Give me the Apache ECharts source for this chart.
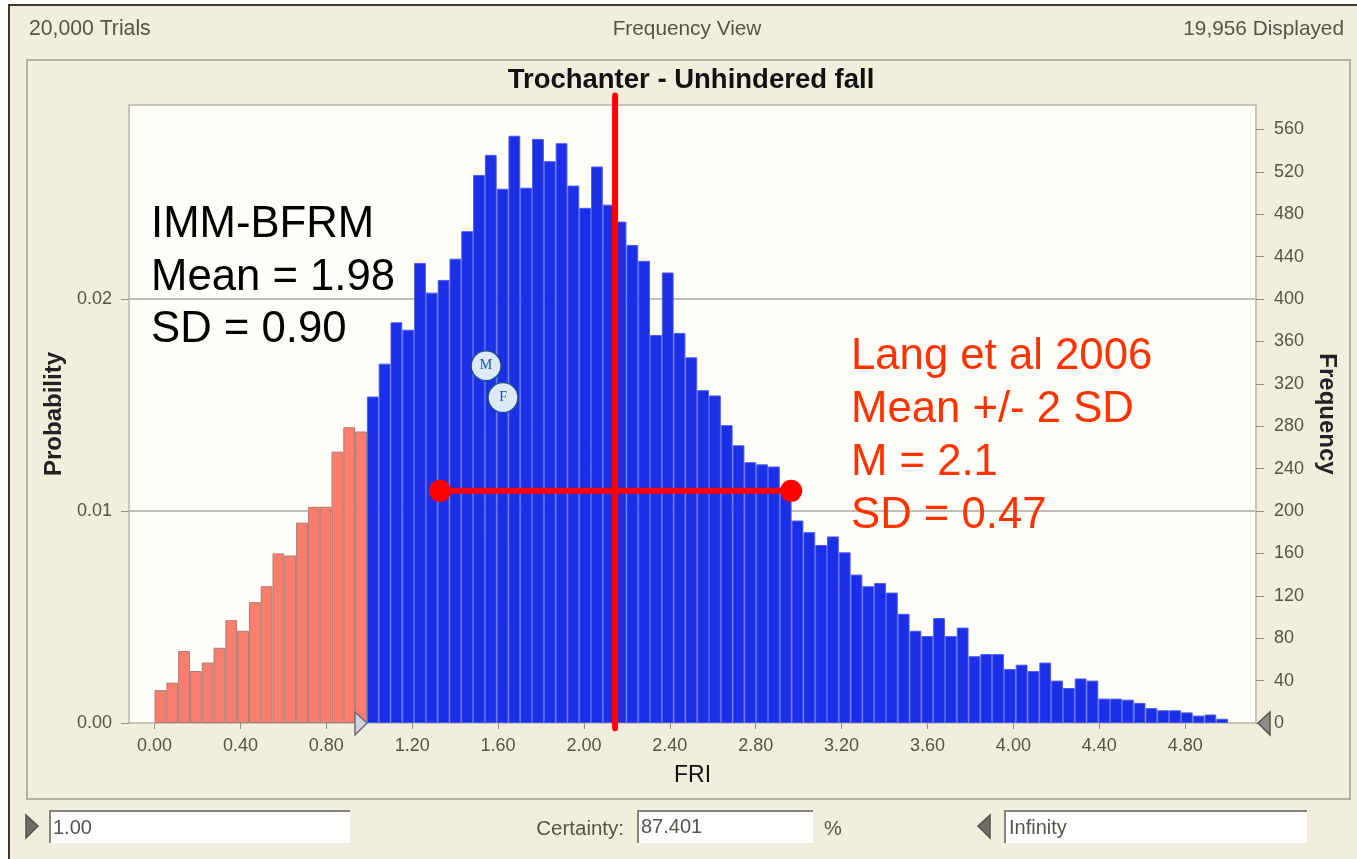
<!DOCTYPE html>
<html>
<head>
<meta charset="utf-8">
<style>html,body{margin:0;padding:0;background:#fff}#c{width:1357px;height:859px}</style>
<script src="https://cdn.jsdelivr.net/npm/echarts@6/dist/echarts.min.js"></script>
</head>
<body>
<div id="c"></div>
<script>
const redFreq = [31,38,68,49,57,71,97,87,114,129,160,158,189,204,204,256,279,275];
const blueFreq = [308,339,378,371,434,406,418,438,464,517,536,504,554,505,551,530,547,507,486,525,489,473,451,436,366,
  425,368,345,314,309,281,262,246,244,242,220,191,180,168,176,161,
  140,129,132,123,103,87,82,99,82,90,63,65,65,51,55,49,57,40,33,42,40,23,23,22,19,14,12,12,10,7,8,4];
const xTicks = [0,0.4,0.8,1.2,1.6,2.0,2.4,2.8,3.2,3.6,4.0,4.4,4.8];
const freqTicks = [0,40,80,120,160,200,240,280,320,360,400,440,480,520,560];
const probTicks = [0,0.01,0.02];
const meanLine = [[2.145,592],[2.145,-5]];
const sdLine = [[1.33,219],[2.965,219]];
const markers = [['M',1.544,337],['F',1.623,307]];
const leftNote = ['IMM-BFRM','Mean = 1.98','SD = 0.90'];
const rightNote = ['Lang et al 2006','Mean +/- 2 SD','M = 2.1','SD = 0.47'];
const binCount = redFreq.length + blueFreq.length;
const binW = 5 / binCount;
const sans = '"Liberation Sans", Arial, sans-serif';
const panel = '#f1eedd', grey = '#55534c';

const redData = redFreq.map((v,i)=>[(i+0.5)*binW,v]);
const blueData = blueFreq.map((v,i)=>[(i+redFreq.length+0.5)*binW,v]);

function txt(x,y,text,size,fill,align,extra){
  return {type:'text',x:x,y:y,z:50,silent:true,style:Object.assign({text:text,font:size+'px '+sans,fill:fill,align:align||'left',verticalAlign:'middle'},extra||{})};
}
function box(x,y,w,h){
  return [
    {type:'rect',shape:{x:x,y:y,width:w,height:h},style:{fill:'#ffffff'},z:-5},
    {type:'polyline',shape:{points:[[x,y+h],[x,y],[x+w,y]]},style:{stroke:'#85847a',lineWidth:2,fill:null},z:-4}
  ];
}
function tri(pts,fill,stroke,z){
  return {type:'polygon',shape:{points:pts},style:{fill:fill,stroke:stroke,lineWidth:1.5},z:z||-4};
}
const chrome = [
  {type:'rect',shape:{x:10,y:6,width:1347,height:853},style:{fill:panel},z:-10},
  {type:'polyline',shape:{points:[[9,859],[9,5],[1357,5]]},style:{stroke:'#3f3a2c',lineWidth:2,fill:null},z:-9},
  {type:'rect',shape:{x:27,y:60,width:1323,height:739},style:{fill:panel,stroke:'#b3b1a0',lineWidth:2},z:-8},
  txt(29,29,'20,000 Trials',21.2,grey),
  txt(687,29,'Frequency View',20.8,grey,'center'),
  txt(1344,29,'19,956 Displayed',20.8,grey,'right'),
  ...box(50,811,300,32),
  ...box(638,811,175,32),
  ...box(1005,811,302,32),
  txt(53,828,'1.00',20,grey),
  txt(624,829,'Certainty:',20.5,grey,'right'),
  txt(641,827,'87.401',20,grey),
  txt(824,829,'%',20,grey),
  txt(1009,828,'Infinity',20,grey),
  tri([[26,815],[38,826],[26,838]],'#6f6e66','#55534c'),
  tri([[990,815],[978,826],[990,838]],'#6f6e66','#55534c'),
  tri([[355,712],[367,723],[355,735]],'#d3d0e0','#6f6e70',60),
  tri([[1270,712],[1258,723],[1270,735]],'#8d8c86','#55534c',60),
  ...leftNote.map((t,i)=>txt(151,225+i*52.5,t,43.7,'#000000')),
  ...rightNote.map((t,i)=>txt(851,356.5+i*53,t,43.7,'#ff3300'))
];

const chart = echarts.init(document.getElementById('c'),null,{renderer:'canvas'});
chart.setOption({
  animation:false,
  backgroundColor:'#ffffff',
  graphic:{elements:chrome},
  title:{text:'Trochanter - Unhindered fall',left:686,top:75,textAlign:'center',textVerticalAlign:'middle',
    textStyle:{fontFamily:sans,fontSize:27.5,fontWeight:'bold',color:'#111'}},
  grid:{left:129,top:105,width:1127,height:618,show:true,backgroundColor:'#fffef9',borderColor:'#c6c5b8',borderWidth:2,containLabel:false},
  xAxis:{type:'value',min:-0.119,max:5.13,name:'FRI',nameLocation:'middle',nameGap:41,
    nameTextStyle:{fontFamily:sans,fontSize:23,color:'#111'},
    axisLine:{show:true,onZero:false,lineStyle:{color:'#c6c5b8',width:2}},
    axisTick:{show:true,length:6,customValues:xTicks,lineStyle:{color:'#8f8e84'}},
    axisLabel:{customValues:xTicks,formatter:v=>v.toFixed(2),margin:14,fontFamily:sans,fontSize:18,color:grey},
    splitLine:{show:false}},
  yAxis:[
    {type:'value',position:'left',min:0,max:0.02915,name:'Probability',nameLocation:'middle',nameGap:62,nameRotate:90,
      nameTextStyle:{fontFamily:sans,fontSize:24,fontWeight:'bold',color:'#222'},
      axisLine:{show:true,onZero:false,lineStyle:{color:'#c6c5b8',width:2}},
      axisTick:{show:true,length:8,customValues:probTicks,lineStyle:{color:'#8f8e84'}},
      axisLabel:{customValues:probTicks,formatter:v=>v.toFixed(2),margin:17,fontFamily:sans,fontSize:18,color:grey},
      splitLine:{show:true,lineStyle:{color:'#c0bfb6',width:2}}},
    {type:'value',position:'right',min:0,max:583,name:'Frequency',nameLocation:'middle',nameGap:55,nameRotate:-90,
      nameTextStyle:{fontFamily:sans,fontSize:24,fontWeight:'bold',color:'#222'},
      axisLine:{show:true,onZero:false,lineStyle:{color:'#c6c5b8',width:2}},
      axisTick:{show:true,length:8,customValues:freqTicks,lineStyle:{color:'#8f8e84'}},
      axisLabel:{customValues:freqTicks,margin:18,fontFamily:sans,fontSize:18,color:grey},
      splitLine:{show:false}}
  ],
  series:[
    {name:'Below',type:'bar',yAxisIndex:1,data:redData,barWidth:11.8,barGap:'-100%',
      itemStyle:{color:'#fb7d6d',borderColor:'#ab7c72',borderWidth:1}},
    {name:'Above',type:'bar',yAxisIndex:1,data:blueData,barWidth:11.8,barGap:'-100%',
      itemStyle:{color:'#1c2ee6',borderColor:'#4a5cf2',borderWidth:1}},
    {name:'Mean',type:'line',yAxisIndex:1,data:meanLine,symbol:'none',clip:false,z:20,
      lineStyle:{color:'#ff0000',width:6,cap:'round'}},
    {name:'SD',type:'line',yAxisIndex:1,data:sdLine,symbol:'circle',symbolSize:22,clip:false,z:20,
      itemStyle:{color:'#ff0000'},lineStyle:{color:'#ff0000',width:6}},
    {name:'Stats',type:'scatter',yAxisIndex:1,data:markers.map(m=>({name:m[0],value:[m[1],m[2]]})),symbol:'circle',symbolSize:30,z:15,
      itemStyle:{color:'#dde9f6',borderColor:'#1d4f8f',borderWidth:1.5,opacity:1},
      label:{show:true,position:'inside',formatter:'{b}',fontFamily:'"Liberation Serif", serif',fontSize:14,color:'#1d4fa0'}}
  ]
});
</script>
</body>
</html>
